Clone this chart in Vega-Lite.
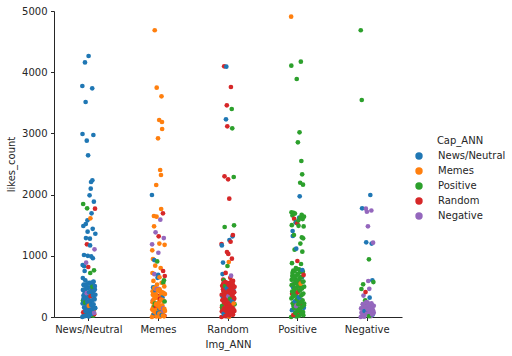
{
  "$schema": "https://vega.github.io/schema/vega-lite/v6.json",
  "autosize": {"type": "none"},
  "padding": {"left": 54, "top": 11, "right": 110, "bottom": 39},
  "width": 348,
  "height": 306,
  "datasets": {
    "main": [
    {"Img_ANN":"News/Neutral","Cap_ANN":"News/Neutral","likes_count":3775},
    {"Img_ANN":"News/Neutral","Cap_ANN":"News/Neutral","likes_count":2990},
    {"Img_ANN":"News/Neutral","Cap_ANN":"News/Neutral","likes_count":850},
    {"Img_ANN":"News/Neutral","Cap_ANN":"News/Neutral","likes_count":637},
    {"Img_ANN":"News/Neutral","Cap_ANN":"Positive","likes_count":270},
    {"Img_ANN":"News/Neutral","Cap_ANN":"Positive","likes_count":1846},
    {"Img_ANN":"News/Neutral","Cap_ANN":"News/Neutral","likes_count":1487},
    {"Img_ANN":"News/Neutral","Cap_ANN":"News/Neutral","likes_count":350},
    {"Img_ANN":"News/Neutral","Cap_ANN":"News/Neutral","likes_count":530},
    {"Img_ANN":"News/Neutral","Cap_ANN":"News/Neutral","likes_count":40},
    {"Img_ANN":"News/Neutral","Cap_ANN":"News/Neutral","likes_count":1013},
    {"Img_ANN":"News/Neutral","Cap_ANN":"News/Neutral","likes_count":830},
    {"Img_ANN":"News/Neutral","Cap_ANN":"News/Neutral","likes_count":230},
    {"Img_ANN":"News/Neutral","Cap_ANN":"Negative","likes_count":85},
    {"Img_ANN":"News/Neutral","Cap_ANN":"News/Neutral","likes_count":752},
    {"Img_ANN":"News/Neutral","Cap_ANN":"News/Neutral","likes_count":420},
    {"Img_ANN":"News/Neutral","Cap_ANN":"News/Neutral","likes_count":4160},
    {"Img_ANN":"News/Neutral","Cap_ANN":"Random","likes_count":260},
    {"Img_ANN":"News/Neutral","Cap_ANN":"News/Neutral","likes_count":600},
    {"Img_ANN":"News/Neutral","Cap_ANN":"News/Neutral","likes_count":120},
    {"Img_ANN":"News/Neutral","Cap_ANN":"News/Neutral","likes_count":3513},
    {"Img_ANN":"News/Neutral","Cap_ANN":"News/Neutral","likes_count":1520},
    {"Img_ANN":"News/Neutral","Cap_ANN":"News/Neutral","likes_count":1290},
    {"Img_ANN":"News/Neutral","Cap_ANN":"Negative","likes_count":887},
    {"Img_ANN":"News/Neutral","Cap_ANN":"News/Neutral","likes_count":280},
    {"Img_ANN":"News/Neutral","Cap_ANN":"Negative","likes_count":310},
    {"Img_ANN":"News/Neutral","Cap_ANN":"Positive","likes_count":60},
    {"Img_ANN":"News/Neutral","Cap_ANN":"News/Neutral","likes_count":2881},
    {"Img_ANN":"News/Neutral","Cap_ANN":"Random","likes_count":1188},
    {"Img_ANN":"News/Neutral","Cap_ANN":"Positive","likes_count":1776},
    {"Img_ANN":"News/Neutral","Cap_ANN":"News/Neutral","likes_count":480},
    {"Img_ANN":"News/Neutral","Cap_ANN":"News/Neutral","likes_count":1580},
    {"Img_ANN":"News/Neutral","Cap_ANN":"News/Neutral","likes_count":1394},
    {"Img_ANN":"News/Neutral","Cap_ANN":"News/Neutral","likes_count":1000},
    {"Img_ANN":"News/Neutral","Cap_ANN":"News/Neutral","likes_count":180},
    {"Img_ANN":"News/Neutral","Cap_ANN":"News/Neutral","likes_count":2642},
    {"Img_ANN":"News/Neutral","Cap_ANN":"Random","likes_count":817},
    {"Img_ANN":"News/Neutral","Cap_ANN":"News/Neutral","likes_count":330},
    {"Img_ANN":"News/Neutral","Cap_ANN":"News/Neutral","likes_count":4265},
    {"Img_ANN":"News/Neutral","Cap_ANN":"News/Neutral","likes_count":10},
    {"Img_ANN":"News/Neutral","Cap_ANN":"Memes","likes_count":220},
    {"Img_ANN":"News/Neutral","Cap_ANN":"News/Neutral","likes_count":560},
    {"Img_ANN":"News/Neutral","Cap_ANN":"Random","likes_count":130},
    {"Img_ANN":"News/Neutral","Cap_ANN":"News/Neutral","likes_count":100},
    {"Img_ANN":"News/Neutral","Cap_ANN":"News/Neutral","likes_count":1988},
    {"Img_ANN":"News/Neutral","Cap_ANN":"News/Neutral","likes_count":400},
    {"Img_ANN":"News/Neutral","Cap_ANN":"News/Neutral","likes_count":1280},
    {"Img_ANN":"News/Neutral","Cap_ANN":"News/Neutral","likes_count":1170},
    {"Img_ANN":"News/Neutral","Cap_ANN":"Positive","likes_count":719},
    {"Img_ANN":"News/Neutral","Cap_ANN":"Memes","likes_count":1612},
    {"Img_ANN":"News/Neutral","Cap_ANN":"News/Neutral","likes_count":250},
    {"Img_ANN":"News/Neutral","Cap_ANN":"News/Neutral","likes_count":2097},
    {"Img_ANN":"News/Neutral","Cap_ANN":"Positive","likes_count":360},
    {"Img_ANN":"News/Neutral","Cap_ANN":"News/Neutral","likes_count":2206},
    {"Img_ANN":"News/Neutral","Cap_ANN":"News/Neutral","likes_count":990},
    {"Img_ANN":"News/Neutral","Cap_ANN":"Negative","likes_count":160},
    {"Img_ANN":"News/Neutral","Cap_ANN":"News/Neutral","likes_count":1694},
    {"Img_ANN":"News/Neutral","Cap_ANN":"News/Neutral","likes_count":510},
    {"Img_ANN":"News/Neutral","Cap_ANN":"News/Neutral","likes_count":70},
    {"Img_ANN":"News/Neutral","Cap_ANN":"Random","likes_count":440},
    {"Img_ANN":"News/Neutral","Cap_ANN":"News/Neutral","likes_count":3736},
    {"Img_ANN":"News/Neutral","Cap_ANN":"News/Neutral","likes_count":2234},
    {"Img_ANN":"News/Neutral","Cap_ANN":"News/Neutral","likes_count":200},
    {"Img_ANN":"News/Neutral","Cap_ANN":"News/Neutral","likes_count":1440},
    {"Img_ANN":"News/Neutral","Cap_ANN":"News/Neutral","likes_count":960},
    {"Img_ANN":"News/Neutral","Cap_ANN":"News/Neutral","likes_count":380},
    {"Img_ANN":"News/Neutral","Cap_ANN":"Positive","likes_count":20},
    {"Img_ANN":"News/Neutral","Cap_ANN":"News/Neutral","likes_count":2974},
    {"Img_ANN":"News/Neutral","Cap_ANN":"News/Neutral","likes_count":580},
    {"Img_ANN":"News/Neutral","Cap_ANN":"Memes","likes_count":110},
    {"Img_ANN":"News/Neutral","Cap_ANN":"News/Neutral","likes_count":1884},
    {"Img_ANN":"News/Neutral","Cap_ANN":"Positive","likes_count":763},
    {"Img_ANN":"News/Neutral","Cap_ANN":"Random","likes_count":45},
    {"Img_ANN":"News/Neutral","Cap_ANN":"News/Neutral","likes_count":300},
    {"Img_ANN":"News/Neutral","Cap_ANN":"Negative","likes_count":1106},
    {"Img_ANN":"News/Neutral","Cap_ANN":"Negative","likes_count":500},
    {"Img_ANN":"News/Neutral","Cap_ANN":"News/Neutral","likes_count":450},
    {"Img_ANN":"News/Neutral","Cap_ANN":"Random","likes_count":1770},
    {"Img_ANN":"News/Neutral","Cap_ANN":"News/Neutral","likes_count":150},
    {"Img_ANN":"News/Neutral","Cap_ANN":"News/Neutral","likes_count":1360},
    {"Img_ANN":"Memes","Cap_ANN":"News/Neutral","likes_count":1993},
    {"Img_ANN":"Memes","Cap_ANN":"Negative","likes_count":1188},
    {"Img_ANN":"Memes","Cap_ANN":"Memes","likes_count":1090},
    {"Img_ANN":"Memes","Cap_ANN":"Memes","likes_count":719},
    {"Img_ANN":"Memes","Cap_ANN":"Memes","likes_count":420},
    {"Img_ANN":"Memes","Cap_ANN":"Negative","likes_count":270},
    {"Img_ANN":"Memes","Cap_ANN":"Memes","likes_count":948},
    {"Img_ANN":"Memes","Cap_ANN":"Memes","likes_count":40},
    {"Img_ANN":"Memes","Cap_ANN":"Memes","likes_count":160},
    {"Img_ANN":"Memes","Cap_ANN":"Memes","likes_count":590},
    {"Img_ANN":"Memes","Cap_ANN":"News/Neutral","likes_count":30},
    {"Img_ANN":"Memes","Cap_ANN":"Memes","likes_count":290},
    {"Img_ANN":"Memes","Cap_ANN":"Memes","likes_count":1650},
    {"Img_ANN":"Memes","Cap_ANN":"Memes","likes_count":1482},
    {"Img_ANN":"Memes","Cap_ANN":"News/Neutral","likes_count":930},
    {"Img_ANN":"Memes","Cap_ANN":"Negative","likes_count":700},
    {"Img_ANN":"Memes","Cap_ANN":"Positive","likes_count":180},
    {"Img_ANN":"Memes","Cap_ANN":"Memes","likes_count":4685},
    {"Img_ANN":"Memes","Cap_ANN":"Memes","likes_count":80},
    {"Img_ANN":"Memes","Cap_ANN":"Memes","likes_count":480},
    {"Img_ANN":"Memes","Cap_ANN":"Memes","likes_count":838},
    {"Img_ANN":"Memes","Cap_ANN":"News/Neutral","likes_count":430},
    {"Img_ANN":"Memes","Cap_ANN":"Negative","likes_count":1384},
    {"Img_ANN":"Memes","Cap_ANN":"Memes","likes_count":210},
    {"Img_ANN":"Memes","Cap_ANN":"Random","likes_count":150},
    {"Img_ANN":"Memes","Cap_ANN":"Memes","likes_count":370},
    {"Img_ANN":"Memes","Cap_ANN":"Memes","likes_count":2157},
    {"Img_ANN":"Memes","Cap_ANN":"Memes","likes_count":10},
    {"Img_ANN":"Memes","Cap_ANN":"Memes","likes_count":1640},
    {"Img_ANN":"Memes","Cap_ANN":"Memes","likes_count":3747},
    {"Img_ANN":"Memes","Cap_ANN":"Memes","likes_count":120},
    {"Img_ANN":"Memes","Cap_ANN":"Memes","likes_count":530},
    {"Img_ANN":"Memes","Cap_ANN":"Positive","likes_count":908},
    {"Img_ANN":"Memes","Cap_ANN":"News/Neutral","likes_count":220},
    {"Img_ANN":"Memes","Cap_ANN":"News/Neutral","likes_count":640},
    {"Img_ANN":"Memes","Cap_ANN":"Memes","likes_count":310},
    {"Img_ANN":"Memes","Cap_ANN":"Memes","likes_count":50},
    {"Img_ANN":"Memes","Cap_ANN":"Memes","likes_count":2920},
    {"Img_ANN":"Memes","Cap_ANN":"News/Neutral","likes_count":690},
    {"Img_ANN":"Memes","Cap_ANN":"Negative","likes_count":1050},
    {"Img_ANN":"Memes","Cap_ANN":"Negative","likes_count":460},
    {"Img_ANN":"Memes","Cap_ANN":"Random","likes_count":1318},
    {"Img_ANN":"Memes","Cap_ANN":"Memes","likes_count":240},
    {"Img_ANN":"Memes","Cap_ANN":"News/Neutral","likes_count":110},
    {"Img_ANN":"Memes","Cap_ANN":"Memes","likes_count":3219},
    {"Img_ANN":"Memes","Cap_ANN":"Memes","likes_count":1200},
    {"Img_ANN":"Memes","Cap_ANN":"Memes","likes_count":650},
    {"Img_ANN":"Memes","Cap_ANN":"Memes","likes_count":450},
    {"Img_ANN":"Memes","Cap_ANN":"Memes","likes_count":5},
    {"Img_ANN":"Memes","Cap_ANN":"Random","likes_count":350},
    {"Img_ANN":"Memes","Cap_ANN":"Memes","likes_count":2402},
    {"Img_ANN":"Memes","Cap_ANN":"Negative","likes_count":1590},
    {"Img_ANN":"Memes","Cap_ANN":"Memes","likes_count":140},
    {"Img_ANN":"Memes","Cap_ANN":"Memes","likes_count":800},
    {"Img_ANN":"Memes","Cap_ANN":"Memes","likes_count":340},
    {"Img_ANN":"Memes","Cap_ANN":"Memes","likes_count":2320},
    {"Img_ANN":"Memes","Cap_ANN":"Memes","likes_count":1765},
    {"Img_ANN":"Memes","Cap_ANN":"Positive","likes_count":70},
    {"Img_ANN":"Memes","Cap_ANN":"Memes","likes_count":3606},
    {"Img_ANN":"Memes","Cap_ANN":"Memes","likes_count":560},
    {"Img_ANN":"Memes","Cap_ANN":"Memes","likes_count":60},
    {"Img_ANN":"Memes","Cap_ANN":"Memes","likes_count":3186},
    {"Img_ANN":"Memes","Cap_ANN":"Memes","likes_count":3072},
    {"Img_ANN":"Memes","Cap_ANN":"Memes","likes_count":190},
    {"Img_ANN":"Memes","Cap_ANN":"News/Neutral","likes_count":320},
    {"Img_ANN":"Memes","Cap_ANN":"Memes","likes_count":400},
    {"Img_ANN":"Memes","Cap_ANN":"Negative","likes_count":90},
    {"Img_ANN":"Memes","Cap_ANN":"Random","likes_count":1694},
    {"Img_ANN":"Memes","Cap_ANN":"Random","likes_count":752},
    {"Img_ANN":"Memes","Cap_ANN":"Positive","likes_count":560},
    {"Img_ANN":"Memes","Cap_ANN":"Memes","likes_count":25},
    {"Img_ANN":"Memes","Cap_ANN":"Memes","likes_count":260},
    {"Img_ANN":"Memes","Cap_ANN":"Negative","likes_count":1290},
    {"Img_ANN":"Memes","Cap_ANN":"Positive","likes_count":600},
    {"Img_ANN":"Memes","Cap_ANN":"Positive","likes_count":380},
    {"Img_ANN":"Memes","Cap_ANN":"Memes","likes_count":500},
    {"Img_ANN":"Memes","Cap_ANN":"Random","likes_count":20},
    {"Img_ANN":"Memes","Cap_ANN":"Memes","likes_count":1180},
    {"Img_ANN":"Memes","Cap_ANN":"Random","likes_count":670},
    {"Img_ANN":"Memes","Cap_ANN":"Memes","likes_count":100},
    {"Img_ANN":"Random","Cap_ANN":"Random","likes_count":1192},
    {"Img_ANN":"Random","Cap_ANN":"Random","likes_count":360},
    {"Img_ANN":"Random","Cap_ANN":"News/Neutral","likes_count":1170},
    {"Img_ANN":"Random","Cap_ANN":"Random","likes_count":160},
    {"Img_ANN":"Random","Cap_ANN":"Random","likes_count":510},
    {"Img_ANN":"Random","Cap_ANN":"Positive","likes_count":130},
    {"Img_ANN":"Random","Cap_ANN":"News/Neutral","likes_count":702},
    {"Img_ANN":"Random","Cap_ANN":"News/Neutral","likes_count":330},
    {"Img_ANN":"Random","Cap_ANN":"Random","likes_count":280},
    {"Img_ANN":"Random","Cap_ANN":"News/Neutral","likes_count":890},
    {"Img_ANN":"Random","Cap_ANN":"Random","likes_count":610},
    {"Img_ANN":"Random","Cap_ANN":"Random","likes_count":80},
    {"Img_ANN":"Random","Cap_ANN":"Random","likes_count":420},
    {"Img_ANN":"Random","Cap_ANN":"Negative","likes_count":90},
    {"Img_ANN":"Random","Cap_ANN":"Positive","likes_count":600},
    {"Img_ANN":"Random","Cap_ANN":"News/Neutral","likes_count":550},
    {"Img_ANN":"Random","Cap_ANN":"Random","likes_count":4096},
    {"Img_ANN":"Random","Cap_ANN":"Random","likes_count":220},
    {"Img_ANN":"Random","Cap_ANN":"Random","likes_count":2299},
    {"Img_ANN":"Random","Cap_ANN":"Positive","likes_count":1471},
    {"Img_ANN":"Random","Cap_ANN":"Positive","likes_count":410},
    {"Img_ANN":"Random","Cap_ANN":"Random","likes_count":20},
    {"Img_ANN":"Random","Cap_ANN":"Random","likes_count":570},
    {"Img_ANN":"Random","Cap_ANN":"Memes","likes_count":350},
    {"Img_ANN":"Random","Cap_ANN":"Random","likes_count":320},
    {"Img_ANN":"Random","Cap_ANN":"Random","likes_count":720},
    {"Img_ANN":"Random","Cap_ANN":"Random","likes_count":120},
    {"Img_ANN":"Random","Cap_ANN":"News/Neutral","likes_count":3230},
    {"Img_ANN":"Random","Cap_ANN":"Positive","likes_count":30},
    {"Img_ANN":"Random","Cap_ANN":"News/Neutral","likes_count":4090},
    {"Img_ANN":"Random","Cap_ANN":"Random","likes_count":470},
    {"Img_ANN":"Random","Cap_ANN":"News/Neutral","likes_count":150},
    {"Img_ANN":"Random","Cap_ANN":"Random","likes_count":3459},
    {"Img_ANN":"Random","Cap_ANN":"Random","likes_count":1062},
    {"Img_ANN":"Random","Cap_ANN":"Random","likes_count":240},
    {"Img_ANN":"Random","Cap_ANN":"Random","likes_count":3116},
    {"Img_ANN":"Random","Cap_ANN":"Positive","likes_count":833},
    {"Img_ANN":"Random","Cap_ANN":"Negative","likes_count":460},
    {"Img_ANN":"Random","Cap_ANN":"News/Neutral","likes_count":10},
    {"Img_ANN":"Random","Cap_ANN":"Random","likes_count":400},
    {"Img_ANN":"Random","Cap_ANN":"Random","likes_count":2250},
    {"Img_ANN":"Random","Cap_ANN":"Random","likes_count":1030},
    {"Img_ANN":"Random","Cap_ANN":"Positive","likes_count":310},
    {"Img_ANN":"Random","Cap_ANN":"Random","likes_count":180},
    {"Img_ANN":"Random","Cap_ANN":"Memes","likes_count":899},
    {"Img_ANN":"Random","Cap_ANN":"Random","likes_count":540},
    {"Img_ANN":"Random","Cap_ANN":"Memes","likes_count":5},
    {"Img_ANN":"Random","Cap_ANN":"Random","likes_count":1933},
    {"Img_ANN":"Random","Cap_ANN":"News/Neutral","likes_count":1258},
    {"Img_ANN":"Random","Cap_ANN":"Random","likes_count":60},
    {"Img_ANN":"Random","Cap_ANN":"News/Neutral","likes_count":250},
    {"Img_ANN":"Random","Cap_ANN":"Random","likes_count":340},
    {"Img_ANN":"Random","Cap_ANN":"Positive","likes_count":50},
    {"Img_ANN":"Random","Cap_ANN":"Random","likes_count":640},
    {"Img_ANN":"Random","Cap_ANN":"Random","likes_count":140},
    {"Img_ANN":"Random","Cap_ANN":"Random","likes_count":1230},
    {"Img_ANN":"Random","Cap_ANN":"Random","likes_count":440},
    {"Img_ANN":"Random","Cap_ANN":"Random","likes_count":3758},
    {"Img_ANN":"Random","Cap_ANN":"Negative","likes_count":675},
    {"Img_ANN":"Random","Cap_ANN":"Positive","likes_count":520},
    {"Img_ANN":"Random","Cap_ANN":"Random","likes_count":260},
    {"Img_ANN":"Random","Cap_ANN":"Memes","likes_count":190},
    {"Img_ANN":"Random","Cap_ANN":"Positive","likes_count":3399},
    {"Img_ANN":"Random","Cap_ANN":"Random","likes_count":953},
    {"Img_ANN":"Random","Cap_ANN":"News/Neutral","likes_count":70},
    {"Img_ANN":"Random","Cap_ANN":"Positive","likes_count":3083},
    {"Img_ANN":"Random","Cap_ANN":"Random","likes_count":40},
    {"Img_ANN":"Random","Cap_ANN":"News/Neutral","likes_count":1318},
    {"Img_ANN":"Random","Cap_ANN":"Random","likes_count":380},
    {"Img_ANN":"Random","Cap_ANN":"Random","likes_count":1340},
    {"Img_ANN":"Random","Cap_ANN":"Random","likes_count":590},
    {"Img_ANN":"Random","Cap_ANN":"Negative","likes_count":270},
    {"Img_ANN":"Random","Cap_ANN":"Random","likes_count":200},
    {"Img_ANN":"Random","Cap_ANN":"News/Neutral","likes_count":430},
    {"Img_ANN":"Random","Cap_ANN":"Positive","likes_count":2288},
    {"Img_ANN":"Random","Cap_ANN":"Random","likes_count":490},
    {"Img_ANN":"Random","Cap_ANN":"Positive","likes_count":1498},
    {"Img_ANN":"Random","Cap_ANN":"Random","likes_count":300},
    {"Img_ANN":"Random","Cap_ANN":"Random","likes_count":100},
    {"Img_ANN":"Random","Cap_ANN":"Positive","likes_count":210},
    {"Img_ANN":"Positive","Cap_ANN":"Memes","likes_count":4907},
    {"Img_ANN":"Positive","Cap_ANN":"Positive","likes_count":4106},
    {"Img_ANN":"Positive","Cap_ANN":"Positive","likes_count":1710},
    {"Img_ANN":"Positive","Cap_ANN":"Positive","likes_count":520},
    {"Img_ANN":"Positive","Cap_ANN":"Positive","likes_count":1500},
    {"Img_ANN":"Positive","Cap_ANN":"Positive","likes_count":880},
    {"Img_ANN":"Positive","Cap_ANN":"Random","likes_count":380},
    {"Img_ANN":"Positive","Cap_ANN":"Positive","likes_count":670},
    {"Img_ANN":"Positive","Cap_ANN":"Positive","likes_count":1660},
    {"Img_ANN":"Positive","Cap_ANN":"News/Neutral","likes_count":1405},
    {"Img_ANN":"Positive","Cap_ANN":"News/Neutral","likes_count":1324},
    {"Img_ANN":"Positive","Cap_ANN":"Positive","likes_count":340},
    {"Img_ANN":"Positive","Cap_ANN":"News/Neutral","likes_count":480},
    {"Img_ANN":"Positive","Cap_ANN":"Positive","likes_count":760},
    {"Img_ANN":"Positive","Cap_ANN":"Positive","likes_count":180},
    {"Img_ANN":"Positive","Cap_ANN":"Positive","likes_count":1700},
    {"Img_ANN":"Positive","Cap_ANN":"Negative","likes_count":540},
    {"Img_ANN":"Positive","Cap_ANN":"Positive","likes_count":1340},
    {"Img_ANN":"Positive","Cap_ANN":"Random","likes_count":1605},
    {"Img_ANN":"Positive","Cap_ANN":"Positive","likes_count":460},
    {"Img_ANN":"Positive","Cap_ANN":"News/Neutral","likes_count":20},
    {"Img_ANN":"Positive","Cap_ANN":"Positive","likes_count":1100},
    {"Img_ANN":"Positive","Cap_ANN":"Memes","likes_count":240},
    {"Img_ANN":"Positive","Cap_ANN":"Positive","likes_count":1690},
    {"Img_ANN":"Positive","Cap_ANN":"Positive","likes_count":610},
    {"Img_ANN":"Positive","Cap_ANN":"Positive","likes_count":60},
    {"Img_ANN":"Positive","Cap_ANN":"Negative","likes_count":110},
    {"Img_ANN":"Positive","Cap_ANN":"Positive","likes_count":400},
    {"Img_ANN":"Positive","Cap_ANN":"Positive","likes_count":1550},
    {"Img_ANN":"Positive","Cap_ANN":"Positive","likes_count":800},
    {"Img_ANN":"Positive","Cap_ANN":"News/Neutral","likes_count":1541},
    {"Img_ANN":"Positive","Cap_ANN":"News/Neutral","likes_count":1116},
    {"Img_ANN":"Positive","Cap_ANN":"Positive","likes_count":10},
    {"Img_ANN":"Positive","Cap_ANN":"Positive","likes_count":550},
    {"Img_ANN":"Positive","Cap_ANN":"Positive","likes_count":3889},
    {"Img_ANN":"Positive","Cap_ANN":"Random","likes_count":70},
    {"Img_ANN":"Positive","Cap_ANN":"Positive","likes_count":260},
    {"Img_ANN":"Positive","Cap_ANN":"Random","likes_count":1530},
    {"Img_ANN":"Positive","Cap_ANN":"Random","likes_count":915},
    {"Img_ANN":"Positive","Cap_ANN":"Positive","likes_count":700},
    {"Img_ANN":"Positive","Cap_ANN":"News/Neutral","likes_count":320},
    {"Img_ANN":"Positive","Cap_ANN":"Positive","likes_count":2854},
    {"Img_ANN":"Positive","Cap_ANN":"Memes","likes_count":450},
    {"Img_ANN":"Positive","Cap_ANN":"Positive","likes_count":140},
    {"Img_ANN":"Positive","Cap_ANN":"Positive","likes_count":1580},
    {"Img_ANN":"Positive","Cap_ANN":"Positive","likes_count":1490},
    {"Img_ANN":"Positive","Cap_ANN":"Positive","likes_count":430},
    {"Img_ANN":"Positive","Cap_ANN":"Random","likes_count":590},
    {"Img_ANN":"Positive","Cap_ANN":"Positive","likes_count":780},
    {"Img_ANN":"Positive","Cap_ANN":"News/Neutral","likes_count":1625},
    {"Img_ANN":"Positive","Cap_ANN":"Positive","likes_count":300},
    {"Img_ANN":"Positive","Cap_ANN":"Positive","likes_count":3018},
    {"Img_ANN":"Positive","Cap_ANN":"News/Neutral","likes_count":1972},
    {"Img_ANN":"Positive","Cap_ANN":"Positive","likes_count":1620},
    {"Img_ANN":"Positive","Cap_ANN":"Positive","likes_count":640},
    {"Img_ANN":"Positive","Cap_ANN":"Positive","likes_count":2194},
    {"Img_ANN":"Positive","Cap_ANN":"Positive","likes_count":1200},
    {"Img_ANN":"Positive","Cap_ANN":"Negative","likes_count":280},
    {"Img_ANN":"Positive","Cap_ANN":"Positive","likes_count":100},
    {"Img_ANN":"Positive","Cap_ANN":"Positive","likes_count":4172},
    {"Img_ANN":"Positive","Cap_ANN":"Positive","likes_count":866},
    {"Img_ANN":"Positive","Cap_ANN":"Positive","likes_count":490},
    {"Img_ANN":"Positive","Cap_ANN":"Positive","likes_count":2549},
    {"Img_ANN":"Positive","Cap_ANN":"Random","likes_count":200},
    {"Img_ANN":"Positive","Cap_ANN":"Positive","likes_count":1670},
    {"Img_ANN":"Positive","Cap_ANN":"Positive","likes_count":1300},
    {"Img_ANN":"Positive","Cap_ANN":"News/Neutral","likes_count":650},
    {"Img_ANN":"Positive","Cap_ANN":"Positive","likes_count":2332},
    {"Img_ANN":"Positive","Cap_ANN":"Positive","likes_count":1067},
    {"Img_ANN":"Positive","Cap_ANN":"Positive","likes_count":370},
    {"Img_ANN":"Positive","Cap_ANN":"Positive","likes_count":1600},
    {"Img_ANN":"Positive","Cap_ANN":"Positive","likes_count":740},
    {"Img_ANN":"Positive","Cap_ANN":"Positive","likes_count":2162},
    {"Img_ANN":"Positive","Cap_ANN":"Positive","likes_count":1285},
    {"Img_ANN":"Positive","Cap_ANN":"Positive","likes_count":30},
    {"Img_ANN":"Positive","Cap_ANN":"Positive","likes_count":580},
    {"Img_ANN":"Positive","Cap_ANN":"Positive","likes_count":1480},
    {"Img_ANN":"Positive","Cap_ANN":"News/Neutral","likes_count":150},
    {"Img_ANN":"Positive","Cap_ANN":"Positive","likes_count":1640},
    {"Img_ANN":"Positive","Cap_ANN":"Positive","likes_count":220},
    {"Img_ANN":"Negative","Cap_ANN":"Positive","likes_count":4685},
    {"Img_ANN":"Negative","Cap_ANN":"Negative","likes_count":140},
    {"Img_ANN":"Negative","Cap_ANN":"Positive","likes_count":458},
    {"Img_ANN":"Negative","Cap_ANN":"Positive","likes_count":3546},
    {"Img_ANN":"Negative","Cap_ANN":"News/Neutral","likes_count":1776},
    {"Img_ANN":"Negative","Cap_ANN":"Negative","likes_count":50},
    {"Img_ANN":"Negative","Cap_ANN":"Negative","likes_count":210},
    {"Img_ANN":"Negative","Cap_ANN":"Positive","likes_count":534},
    {"Img_ANN":"Negative","Cap_ANN":"Negative","likes_count":350},
    {"Img_ANN":"Negative","Cap_ANN":"Memes","likes_count":130},
    {"Img_ANN":"Negative","Cap_ANN":"Negative","likes_count":5},
    {"Img_ANN":"Negative","Cap_ANN":"Negative","likes_count":90},
    {"Img_ANN":"Negative","Cap_ANN":"Positive","likes_count":200},
    {"Img_ANN":"Negative","Cap_ANN":"Positive","likes_count":272},
    {"Img_ANN":"Negative","Cap_ANN":"Random","likes_count":408},
    {"Img_ANN":"Negative","Cap_ANN":"Negative","likes_count":1770},
    {"Img_ANN":"Negative","Cap_ANN":"News/Neutral","likes_count":1220},
    {"Img_ANN":"Negative","Cap_ANN":"Negative","likes_count":160},
    {"Img_ANN":"Negative","Cap_ANN":"Negative","likes_count":1720},
    {"Img_ANN":"Negative","Cap_ANN":"News/Neutral","likes_count":100},
    {"Img_ANN":"Negative","Cap_ANN":"Negative","likes_count":240},
    {"Img_ANN":"Negative","Cap_ANN":"Negative","likes_count":1482},
    {"Img_ANN":"Negative","Cap_ANN":"Negative","likes_count":588},
    {"Img_ANN":"Negative","Cap_ANN":"Negative","likes_count":30},
    {"Img_ANN":"Negative","Cap_ANN":"Positive","likes_count":942},
    {"Img_ANN":"Negative","Cap_ANN":"Negative","likes_count":460},
    {"Img_ANN":"Negative","Cap_ANN":"News/Neutral","likes_count":316},
    {"Img_ANN":"Negative","Cap_ANN":"Negative","likes_count":110},
    {"Img_ANN":"Negative","Cap_ANN":"News/Neutral","likes_count":1993},
    {"Img_ANN":"Negative","Cap_ANN":"News/Neutral","likes_count":180},
    {"Img_ANN":"Negative","Cap_ANN":"Negative","likes_count":15},
    {"Img_ANN":"Negative","Cap_ANN":"Negative","likes_count":1740},
    {"Img_ANN":"Negative","Cap_ANN":"News/Neutral","likes_count":1200},
    {"Img_ANN":"Negative","Cap_ANN":"Negative","likes_count":190},
    {"Img_ANN":"Negative","Cap_ANN":"News/Neutral","likes_count":600},
    {"Img_ANN":"Negative","Cap_ANN":"News/Neutral","likes_count":40},
    {"Img_ANN":"Negative","Cap_ANN":"Negative","likes_count":1215},
    {"Img_ANN":"Negative","Cap_ANN":"Positive","likes_count":570},
    {"Img_ANN":"Negative","Cap_ANN":"Negative","likes_count":70}
    ],
    "base": [
    {"Img_ANN":"News/Neutral","Cap_ANN":"News/Neutral","likes_count":0},
    {"Img_ANN":"News/Neutral","Cap_ANN":"News/Neutral","likes_count":221},
    {"Img_ANN":"News/Neutral","Cap_ANN":"News/Neutral","likes_count":442},
    {"Img_ANN":"News/Neutral","Cap_ANN":"Random","likes_count":78},
    {"Img_ANN":"News/Neutral","Cap_ANN":"News/Neutral","likes_count":299},
    {"Img_ANN":"News/Neutral","Cap_ANN":"News/Neutral","likes_count":520},
    {"Img_ANN":"News/Neutral","Cap_ANN":"News/Neutral","likes_count":156},
    {"Img_ANN":"News/Neutral","Cap_ANN":"News/Neutral","likes_count":377},
    {"Img_ANN":"News/Neutral","Cap_ANN":"News/Neutral","likes_count":13},
    {"Img_ANN":"News/Neutral","Cap_ANN":"Positive","likes_count":234},
    {"Img_ANN":"News/Neutral","Cap_ANN":"News/Neutral","likes_count":455},
    {"Img_ANN":"News/Neutral","Cap_ANN":"News/Neutral","likes_count":91},
    {"Img_ANN":"News/Neutral","Cap_ANN":"News/Neutral","likes_count":312},
    {"Img_ANN":"News/Neutral","Cap_ANN":"News/Neutral","likes_count":533},
    {"Img_ANN":"News/Neutral","Cap_ANN":"News/Neutral","likes_count":169},
    {"Img_ANN":"News/Neutral","Cap_ANN":"Negative","likes_count":390},
    {"Img_ANN":"News/Neutral","Cap_ANN":"News/Neutral","likes_count":26},
    {"Img_ANN":"News/Neutral","Cap_ANN":"News/Neutral","likes_count":247},
    {"Img_ANN":"News/Neutral","Cap_ANN":"News/Neutral","likes_count":468},
    {"Img_ANN":"News/Neutral","Cap_ANN":"News/Neutral","likes_count":104},
    {"Img_ANN":"News/Neutral","Cap_ANN":"News/Neutral","likes_count":325},
    {"Img_ANN":"News/Neutral","Cap_ANN":"News/Neutral","likes_count":546},
    {"Img_ANN":"News/Neutral","Cap_ANN":"Memes","likes_count":182},
    {"Img_ANN":"News/Neutral","Cap_ANN":"News/Neutral","likes_count":403},
    {"Img_ANN":"News/Neutral","Cap_ANN":"News/Neutral","likes_count":39},
    {"Img_ANN":"News/Neutral","Cap_ANN":"News/Neutral","likes_count":260},
    {"Img_ANN":"News/Neutral","Cap_ANN":"News/Neutral","likes_count":481},
    {"Img_ANN":"News/Neutral","Cap_ANN":"News/Neutral","likes_count":117},
    {"Img_ANN":"News/Neutral","Cap_ANN":"Random","likes_count":338},
    {"Img_ANN":"News/Neutral","Cap_ANN":"News/Neutral","likes_count":559},
    {"Img_ANN":"News/Neutral","Cap_ANN":"News/Neutral","likes_count":195},
    {"Img_ANN":"News/Neutral","Cap_ANN":"News/Neutral","likes_count":416},
    {"Img_ANN":"News/Neutral","Cap_ANN":"News/Neutral","likes_count":52},
    {"Img_ANN":"News/Neutral","Cap_ANN":"News/Neutral","likes_count":273},
    {"Img_ANN":"News/Neutral","Cap_ANN":"Positive","likes_count":494},
    {"Img_ANN":"News/Neutral","Cap_ANN":"News/Neutral","likes_count":130},
    {"Img_ANN":"News/Neutral","Cap_ANN":"News/Neutral","likes_count":351},
    {"Img_ANN":"News/Neutral","Cap_ANN":"News/Neutral","likes_count":572},
    {"Img_ANN":"News/Neutral","Cap_ANN":"News/Neutral","likes_count":208},
    {"Img_ANN":"News/Neutral","Cap_ANN":"News/Neutral","likes_count":429},
    {"Img_ANN":"News/Neutral","Cap_ANN":"Negative","likes_count":65},
    {"Img_ANN":"News/Neutral","Cap_ANN":"News/Neutral","likes_count":286},
    {"Img_ANN":"News/Neutral","Cap_ANN":"News/Neutral","likes_count":507},
    {"Img_ANN":"News/Neutral","Cap_ANN":"News/Neutral","likes_count":143},
    {"Img_ANN":"News/Neutral","Cap_ANN":"News/Neutral","likes_count":364},
    {"Img_ANN":"Memes","Cap_ANN":"Memes","likes_count":0},
    {"Img_ANN":"Memes","Cap_ANN":"Memes","likes_count":121},
    {"Img_ANN":"Memes","Cap_ANN":"Memes","likes_count":242},
    {"Img_ANN":"Memes","Cap_ANN":"Memes","likes_count":363},
    {"Img_ANN":"Memes","Cap_ANN":"News/Neutral","likes_count":484},
    {"Img_ANN":"Memes","Cap_ANN":"Memes","likes_count":110},
    {"Img_ANN":"Memes","Cap_ANN":"Memes","likes_count":231},
    {"Img_ANN":"Memes","Cap_ANN":"Memes","likes_count":352},
    {"Img_ANN":"Memes","Cap_ANN":"Memes","likes_count":473},
    {"Img_ANN":"Memes","Cap_ANN":"Memes","likes_count":99},
    {"Img_ANN":"Memes","Cap_ANN":"Positive","likes_count":220},
    {"Img_ANN":"Memes","Cap_ANN":"Memes","likes_count":341},
    {"Img_ANN":"Memes","Cap_ANN":"Memes","likes_count":462},
    {"Img_ANN":"Memes","Cap_ANN":"Memes","likes_count":88},
    {"Img_ANN":"Memes","Cap_ANN":"Memes","likes_count":209},
    {"Img_ANN":"Memes","Cap_ANN":"Memes","likes_count":330},
    {"Img_ANN":"Memes","Cap_ANN":"Negative","likes_count":451},
    {"Img_ANN":"Memes","Cap_ANN":"Memes","likes_count":77},
    {"Img_ANN":"Memes","Cap_ANN":"Memes","likes_count":198},
    {"Img_ANN":"Memes","Cap_ANN":"Memes","likes_count":319},
    {"Img_ANN":"Memes","Cap_ANN":"Memes","likes_count":440},
    {"Img_ANN":"Memes","Cap_ANN":"News/Neutral","likes_count":66},
    {"Img_ANN":"Memes","Cap_ANN":"Memes","likes_count":187},
    {"Img_ANN":"Memes","Cap_ANN":"Memes","likes_count":308},
    {"Img_ANN":"Memes","Cap_ANN":"Memes","likes_count":429},
    {"Img_ANN":"Memes","Cap_ANN":"Memes","likes_count":55},
    {"Img_ANN":"Memes","Cap_ANN":"Memes","likes_count":176},
    {"Img_ANN":"Memes","Cap_ANN":"Random","likes_count":297},
    {"Img_ANN":"Memes","Cap_ANN":"Memes","likes_count":418},
    {"Img_ANN":"Memes","Cap_ANN":"Memes","likes_count":44},
    {"Img_ANN":"Memes","Cap_ANN":"Memes","likes_count":165},
    {"Img_ANN":"Memes","Cap_ANN":"Memes","likes_count":286},
    {"Img_ANN":"Memes","Cap_ANN":"Memes","likes_count":407},
    {"Img_ANN":"Memes","Cap_ANN":"News/Neutral","likes_count":33},
    {"Img_ANN":"Memes","Cap_ANN":"Memes","likes_count":154},
    {"Img_ANN":"Memes","Cap_ANN":"Memes","likes_count":275},
    {"Img_ANN":"Memes","Cap_ANN":"Memes","likes_count":396},
    {"Img_ANN":"Memes","Cap_ANN":"Memes","likes_count":22},
    {"Img_ANN":"Memes","Cap_ANN":"Negative","likes_count":143},
    {"Img_ANN":"Memes","Cap_ANN":"Memes","likes_count":264},
    {"Img_ANN":"Memes","Cap_ANN":"Memes","likes_count":385},
    {"Img_ANN":"Memes","Cap_ANN":"Memes","likes_count":11},
    {"Img_ANN":"Memes","Cap_ANN":"Memes","likes_count":132},
    {"Img_ANN":"Memes","Cap_ANN":"Positive","likes_count":253},
    {"Img_ANN":"Memes","Cap_ANN":"Memes","likes_count":374},
    {"Img_ANN":"Random","Cap_ANN":"Random","likes_count":0},
    {"Img_ANN":"Random","Cap_ANN":"Random","likes_count":91},
    {"Img_ANN":"Random","Cap_ANN":"Positive","likes_count":182},
    {"Img_ANN":"Random","Cap_ANN":"Random","likes_count":273},
    {"Img_ANN":"Random","Cap_ANN":"Random","likes_count":364},
    {"Img_ANN":"Random","Cap_ANN":"Random","likes_count":455},
    {"Img_ANN":"Random","Cap_ANN":"Random","likes_count":546},
    {"Img_ANN":"Random","Cap_ANN":"News/Neutral","likes_count":52},
    {"Img_ANN":"Random","Cap_ANN":"Random","likes_count":143},
    {"Img_ANN":"Random","Cap_ANN":"Random","likes_count":234},
    {"Img_ANN":"Random","Cap_ANN":"Random","likes_count":325},
    {"Img_ANN":"Random","Cap_ANN":"Random","likes_count":416},
    {"Img_ANN":"Random","Cap_ANN":"Positive","likes_count":507},
    {"Img_ANN":"Random","Cap_ANN":"Random","likes_count":13},
    {"Img_ANN":"Random","Cap_ANN":"Random","likes_count":104},
    {"Img_ANN":"Random","Cap_ANN":"Random","likes_count":195},
    {"Img_ANN":"Random","Cap_ANN":"Random","likes_count":286},
    {"Img_ANN":"Random","Cap_ANN":"Random","likes_count":377},
    {"Img_ANN":"Random","Cap_ANN":"News/Neutral","likes_count":468},
    {"Img_ANN":"Random","Cap_ANN":"Random","likes_count":559},
    {"Img_ANN":"Random","Cap_ANN":"Random","likes_count":65},
    {"Img_ANN":"Random","Cap_ANN":"Random","likes_count":156},
    {"Img_ANN":"Random","Cap_ANN":"Random","likes_count":247},
    {"Img_ANN":"Random","Cap_ANN":"Negative","likes_count":338},
    {"Img_ANN":"Random","Cap_ANN":"Random","likes_count":429},
    {"Img_ANN":"Random","Cap_ANN":"Random","likes_count":520},
    {"Img_ANN":"Random","Cap_ANN":"Random","likes_count":26},
    {"Img_ANN":"Random","Cap_ANN":"Random","likes_count":117},
    {"Img_ANN":"Random","Cap_ANN":"Random","likes_count":208},
    {"Img_ANN":"Random","Cap_ANN":"Positive","likes_count":299},
    {"Img_ANN":"Random","Cap_ANN":"Random","likes_count":390},
    {"Img_ANN":"Random","Cap_ANN":"Random","likes_count":481},
    {"Img_ANN":"Random","Cap_ANN":"Random","likes_count":572},
    {"Img_ANN":"Random","Cap_ANN":"Random","likes_count":78},
    {"Img_ANN":"Random","Cap_ANN":"Random","likes_count":169},
    {"Img_ANN":"Random","Cap_ANN":"News/Neutral","likes_count":260},
    {"Img_ANN":"Random","Cap_ANN":"Random","likes_count":351},
    {"Img_ANN":"Random","Cap_ANN":"Random","likes_count":442},
    {"Img_ANN":"Random","Cap_ANN":"Random","likes_count":533},
    {"Img_ANN":"Random","Cap_ANN":"Random","likes_count":39},
    {"Img_ANN":"Random","Cap_ANN":"Random","likes_count":130},
    {"Img_ANN":"Random","Cap_ANN":"Memes","likes_count":221},
    {"Img_ANN":"Random","Cap_ANN":"Random","likes_count":312},
    {"Img_ANN":"Random","Cap_ANN":"Random","likes_count":403},
    {"Img_ANN":"Random","Cap_ANN":"Random","likes_count":494},
    {"Img_ANN":"Positive","Cap_ANN":"Positive","likes_count":0},
    {"Img_ANN":"Positive","Cap_ANN":"Positive","likes_count":304},
    {"Img_ANN":"Positive","Cap_ANN":"Positive","likes_count":608},
    {"Img_ANN":"Positive","Cap_ANN":"News/Neutral","likes_count":112},
    {"Img_ANN":"Positive","Cap_ANN":"Positive","likes_count":416},
    {"Img_ANN":"Positive","Cap_ANN":"Positive","likes_count":720},
    {"Img_ANN":"Positive","Cap_ANN":"Positive","likes_count":224},
    {"Img_ANN":"Positive","Cap_ANN":"Positive","likes_count":528},
    {"Img_ANN":"Positive","Cap_ANN":"Random","likes_count":32},
    {"Img_ANN":"Positive","Cap_ANN":"Positive","likes_count":336},
    {"Img_ANN":"Positive","Cap_ANN":"Positive","likes_count":640},
    {"Img_ANN":"Positive","Cap_ANN":"Positive","likes_count":144},
    {"Img_ANN":"Positive","Cap_ANN":"Positive","likes_count":448},
    {"Img_ANN":"Positive","Cap_ANN":"Positive","likes_count":752},
    {"Img_ANN":"Positive","Cap_ANN":"News/Neutral","likes_count":256},
    {"Img_ANN":"Positive","Cap_ANN":"Positive","likes_count":560},
    {"Img_ANN":"Positive","Cap_ANN":"Positive","likes_count":64},
    {"Img_ANN":"Positive","Cap_ANN":"Positive","likes_count":368},
    {"Img_ANN":"Positive","Cap_ANN":"Positive","likes_count":672},
    {"Img_ANN":"Positive","Cap_ANN":"Negative","likes_count":176},
    {"Img_ANN":"Positive","Cap_ANN":"Positive","likes_count":480},
    {"Img_ANN":"Positive","Cap_ANN":"Positive","likes_count":784},
    {"Img_ANN":"Positive","Cap_ANN":"Positive","likes_count":288},
    {"Img_ANN":"Positive","Cap_ANN":"Positive","likes_count":592},
    {"Img_ANN":"Positive","Cap_ANN":"Positive","likes_count":96},
    {"Img_ANN":"Positive","Cap_ANN":"Random","likes_count":400},
    {"Img_ANN":"Positive","Cap_ANN":"Positive","likes_count":704},
    {"Img_ANN":"Positive","Cap_ANN":"Positive","likes_count":208},
    {"Img_ANN":"Positive","Cap_ANN":"Positive","likes_count":512},
    {"Img_ANN":"Positive","Cap_ANN":"Positive","likes_count":16},
    {"Img_ANN":"Positive","Cap_ANN":"News/Neutral","likes_count":320},
    {"Img_ANN":"Positive","Cap_ANN":"Positive","likes_count":624},
    {"Img_ANN":"Positive","Cap_ANN":"Positive","likes_count":128},
    {"Img_ANN":"Positive","Cap_ANN":"Positive","likes_count":432},
    {"Img_ANN":"Positive","Cap_ANN":"Positive","likes_count":736},
    {"Img_ANN":"Positive","Cap_ANN":"Positive","likes_count":240},
    {"Img_ANN":"Positive","Cap_ANN":"Memes","likes_count":544},
    {"Img_ANN":"Positive","Cap_ANN":"Positive","likes_count":48},
    {"Img_ANN":"Positive","Cap_ANN":"Positive","likes_count":352},
    {"Img_ANN":"Positive","Cap_ANN":"Positive","likes_count":656},
    {"Img_ANN":"Positive","Cap_ANN":"Positive","likes_count":160},
    {"Img_ANN":"Positive","Cap_ANN":"Positive","likes_count":464},
    {"Img_ANN":"Positive","Cap_ANN":"News/Neutral","likes_count":768},
    {"Img_ANN":"Positive","Cap_ANN":"Positive","likes_count":272},
    {"Img_ANN":"Positive","Cap_ANN":"Positive","likes_count":576},
    {"Img_ANN":"Positive","Cap_ANN":"Positive","likes_count":80},
    {"Img_ANN":"Positive","Cap_ANN":"Positive","likes_count":384},
    {"Img_ANN":"Positive","Cap_ANN":"Random","likes_count":688},
    {"Img_ANN":"Positive","Cap_ANN":"Positive","likes_count":192},
    {"Img_ANN":"Positive","Cap_ANN":"Positive","likes_count":496},
    {"Img_ANN":"Negative","Cap_ANN":"Negative","likes_count":0},
    {"Img_ANN":"Negative","Cap_ANN":"Negative","likes_count":70},
    {"Img_ANN":"Negative","Cap_ANN":"Negative","likes_count":140},
    {"Img_ANN":"Negative","Cap_ANN":"Negative","likes_count":210},
    {"Img_ANN":"Negative","Cap_ANN":"Negative","likes_count":28},
    {"Img_ANN":"Negative","Cap_ANN":"News/Neutral","likes_count":98},
    {"Img_ANN":"Negative","Cap_ANN":"Negative","likes_count":168},
    {"Img_ANN":"Negative","Cap_ANN":"Negative","likes_count":238},
    {"Img_ANN":"Negative","Cap_ANN":"Negative","likes_count":56},
    {"Img_ANN":"Negative","Cap_ANN":"Negative","likes_count":126},
    {"Img_ANN":"Negative","Cap_ANN":"Negative","likes_count":196},
    {"Img_ANN":"Negative","Cap_ANN":"Positive","likes_count":14},
    {"Img_ANN":"Negative","Cap_ANN":"Negative","likes_count":84},
    {"Img_ANN":"Negative","Cap_ANN":"Negative","likes_count":154},
    {"Img_ANN":"Negative","Cap_ANN":"Negative","likes_count":224},
    {"Img_ANN":"Negative","Cap_ANN":"Negative","likes_count":42},
    {"Img_ANN":"Negative","Cap_ANN":"Negative","likes_count":112},
    {"Img_ANN":"Negative","Cap_ANN":"Negative","likes_count":182}
    ]
  },
  "encoding": {
    "x": {
      "field": "Img_ANN", "type": "nominal", "title": "Img_ANN",
      "sort": ["News/Neutral", "Memes", "Random", "Positive", "Negative"],
      "scale": {"paddingInner": 0.8, "paddingOuter": 0.4},
      "axis": {"labelAngle": 0, "titlePadding": 5}
    },
    "xOffset": {"field": "jitter_rank", "type": "quantitative", "scale": {"domain": [0, 1], "range": [0.5, 13.5]}},
    "y": {
      "field": "likes_count", "type": "quantitative", "title": "likes_count",
      "scale": {"domain": [0, 5000], "nice": false},
      "axis": {"values": [0, 1000, 2000, 3000, 4000, 5000], "format": "d", "titlePadding": 5}
    },
    "color": {
      "field": "Cap_ANN", "type": "nominal", "title": "Cap_ANN",
      "scale": {
        "domain": ["News/Neutral", "Memes", "Positive", "Random", "Negative"],
        "range": ["#1f77b4", "#ff7f0e", "#2ca02c", "#d62728", "#9467bd"]
      },
      "legend": {
        "orient": "none", "legendX": 360, "legendY": 125,
        "symbolType": "circle", "symbolSize": 55, "symbolStrokeWidth": 0,
        "labelOffset": 14, "rowPadding": 5, "titlePadding": 5,
        "titleAnchor": "middle", "padding": 0
      }
    }
  },
  "layer": [
    {
      "data": {"name": "main"},
      "transform": [{"window": [{"op": "percent_rank", "as": "jitter_rank"}], "groupby": ["Img_ANN"]}],
      "mark": {"type": "point", "filled": true, "shape": "circle", "size": 22, "opacity": 1, "strokeWidth": 0}
    },
    {
      "data": {"name": "base"},
      "transform": [{"window": [{"op": "percent_rank", "as": "jitter_rank"}], "groupby": ["Img_ANN"]}],
      "mark": {"type": "point", "filled": true, "shape": "circle", "size": 22, "opacity": 1, "strokeWidth": 0}
    }
  ],
  "config": {
    "view": {"stroke": null},
    "font": "DejaVu Sans",
    "axis": {
      "grid": false, "domainColor": "#262626", "tickColor": "#262626",
      "labelColor": "#262626", "titleColor": "#262626",
      "labelFontSize": 10, "titleFontSize": 10, "titleFontWeight": "normal",
      "tickSize": 3.5, "labelPadding": 3.5, "domainWidth": 1, "tickWidth": 1
    },
    "legend": {
      "labelFontSize": 10, "titleFontSize": 10, "titleFontWeight": "normal",
      "labelColor": "#262626", "titleColor": "#262626"
    }
  }
}
